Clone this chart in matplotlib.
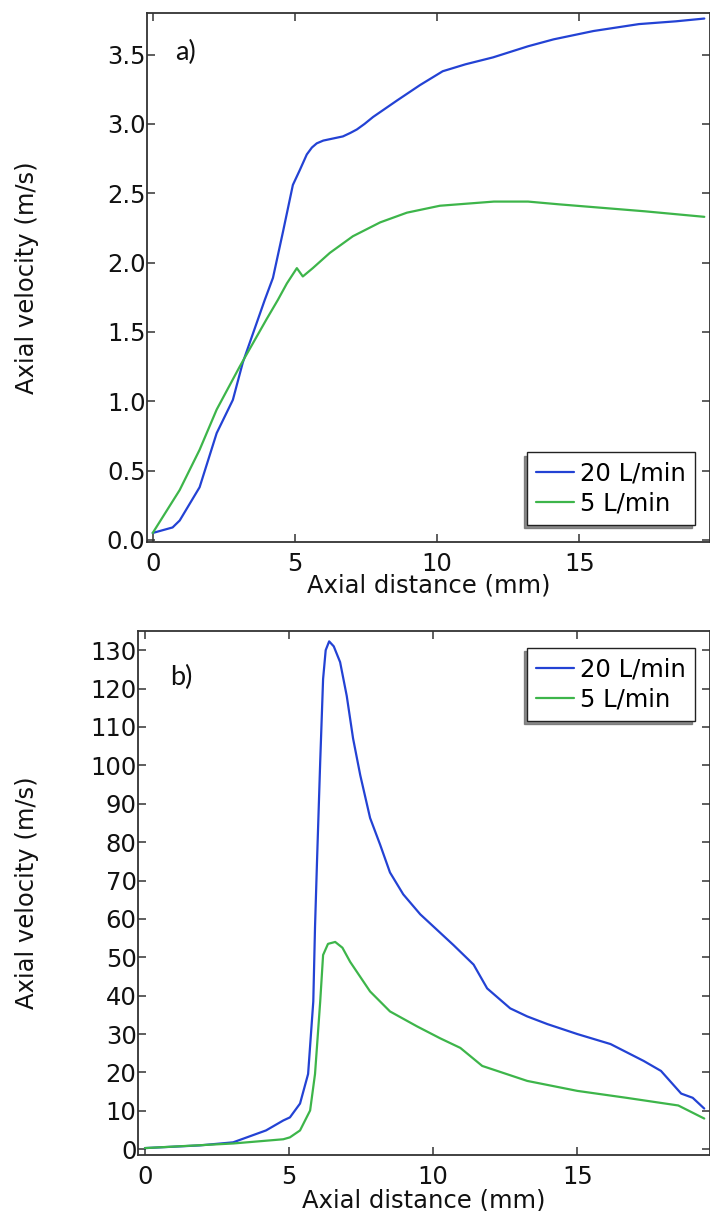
import matplotlib
matplotlib.use("Agg")
import matplotlib.pyplot as plt

# ---- Panel a) data ----
xa_20 = [0.0, 0.7, 0.95, 1.65, 2.25, 2.82, 3.17, 3.94, 4.23, 4.58, 4.93, 5.18, 5.42, 5.6, 5.77, 6.0, 6.23,
         6.69, 6.95, 7.18, 7.45, 7.75, 8.6, 9.4, 10.2, 11.0, 11.97, 13.2, 14.1, 15.5, 17.1, 18.4, 19.4]
va_20 = [0.05, 0.09, 0.14, 0.38, 0.77, 1.01, 1.28, 1.73, 1.89, 2.22, 2.56, 2.67, 2.78, 2.83, 2.86, 2.88, 2.89,
         2.91, 2.935, 2.96, 3.0, 3.05, 3.17, 3.28, 3.38, 3.43, 3.48, 3.56, 3.61, 3.67, 3.72, 3.74, 3.76]
xa_5 = [0.0, 0.95, 1.65, 2.25, 3.06, 4.0, 4.40, 4.72, 5.07, 5.28, 5.63, 6.23, 7.04, 8.0,
        8.94, 10.1, 12.0, 13.2, 14.3, 15.5, 17.3, 19.4]
va_5 = [0.05, 0.36, 0.65, 0.94, 1.25, 1.59, 1.73, 1.85, 1.96, 1.90, 1.96, 2.07, 2.19, 2.29,
        2.36, 2.41, 2.44, 2.44, 2.42, 2.40, 2.37, 2.33]

# ---- Panel b) data ----
xb_20 = [0.0, 1.9, 3.06, 4.2, 4.8, 5.03, 5.38, 5.66, 5.84, 5.9, 5.97, 6.08, 6.18, 6.27, 6.39,
         6.55, 6.77, 7.0, 7.22, 7.47, 7.81, 8.16, 8.5, 8.96, 9.55, 10.7, 11.4, 11.87, 12.67,
         13.26, 13.96, 15.0, 16.15, 17.3, 17.9, 18.6, 19.0, 19.4]
vb_20 = [0.3, 1.0, 1.8, 4.9, 7.5, 8.3, 11.9, 19.6, 38.5, 57.9, 75.2, 101.0, 122.5, 130.0, 132.3,
         131.0, 126.9, 118.1, 107.0, 97.4, 86.3, 79.3, 72.1, 66.4, 61.2, 53.2, 48.1, 41.9, 36.7,
         34.6, 32.6, 30.0, 27.4, 23.0, 20.4, 14.5, 13.4, 10.6]
xb_5 = [0.0, 3.06, 4.8, 5.03, 5.38, 5.73, 5.9, 6.08, 6.18, 6.35, 6.6, 6.85, 7.12, 7.81, 8.5,
        9.44, 10.24, 10.94, 11.7, 13.26, 15.0, 16.7, 18.5, 19.4]
vb_5 = [0.3, 1.5, 2.6, 3.1, 4.9, 10.1, 19.6, 38.5, 50.6, 53.5, 54.0, 52.5, 48.8, 41.1, 35.9,
        32.0, 28.9, 26.4, 21.7, 17.8, 15.2, 13.4, 11.4, 8.0]

series_labels = ["20 L/min", "5 L/min"]
xticks = [0, 5, 10, 15]
yticks_a = [0.0, 0.5, 1.0, 1.5, 2.0, 2.5, 3.0, 3.5]
yticks_b = list(range(0, 131, 10))

BLUE = "#2342d4"
GREEN = "#3db54a"
SPINE = "#333333"
FS = 17.5

plt.rcParams['font.family'] = ['DejaVu Sans']

W, H = 710, 1211
fig = plt.figure(figsize=(W / 100, H / 100), dpi=100)

def px_axes(left, top, right, bottom):
    return fig.add_axes([left / W, 1 - bottom / H, (right - left) / W, (bottom - top) / H])

ax1 = px_axes(147, 13, 710, 542)
ax2 = px_axes(138, 631, 710, 1155)

def style(ax):
    for s in ax.spines.values():
        s.set_color(SPINE)
        s.set_linewidth(1.3)
    ax.tick_params(direction='in', length=6, width=1.1, color=SPINE,
                   top=True, right=True, labelsize=FS, labelcolor='#111111')
    ax.tick_params(axis='x', pad=7)
    ax.tick_params(axis='y', pad=1)

line_kw = dict(lw=1.6, solid_joinstyle='round', solid_capstyle='round')
ax1.plot(xa_20, va_20, color=BLUE, label=series_labels[0], **line_kw)
ax1.plot(xa_5, va_5, color=GREEN, label=series_labels[1], **line_kw)
ax1.set_xlim(-0.2, 19.6)
ax1.set_ylim(-0.015, 3.80)
ax1.set_xticks(xticks)
ax1.set_yticks(yticks_a)
ax1.set_yticklabels([f"{v:.1f}" for v in yticks_a])
style(ax1)

ax2.plot(xb_20, vb_20, color=BLUE, label=series_labels[0], **line_kw)
ax2.plot(xb_5, vb_5, color=GREEN, label=series_labels[1], **line_kw)
ax2.set_xlim(-0.24, 19.6)
ax2.set_ylim(-1.5, 135)
ax2.set_xticks(xticks)
ax2.set_yticks(yticks_b)
style(ax2)

for ax, ylx, xly in ((ax1, -0.192, -0.060), (ax2, -0.173, -0.063)):
    ax.set_xlabel("Axial distance (mm)", fontsize=FS, color='#111111')
    ax.set_ylabel("Axial velocity (m/s)", fontsize=FS, color='#111111')
    ax.yaxis.set_label_coords(ylx, 0.5)
    ax.xaxis.set_label_coords(0.5, xly)

leg_kw = dict(fontsize=FS, fancybox=False, frameon=True, edgecolor='#222222',
              handlelength=1.56, handletextpad=0.25, borderpad=0.38, labelspacing=0.25,
              borderaxespad=0.0, shadow={'ox': -2.2, 'oy': -2.2, 'color': '#666666', 'alpha': 0.75})
l1 = ax1.legend(loc='lower right', bbox_to_anchor=(695 / W, 1 - 525 / H),
                bbox_transform=fig.transFigure, **leg_kw)
l2 = ax2.legend(loc='upper right', bbox_to_anchor=(695 / W, 1 - 648 / H),
                bbox_transform=fig.transFigure, **leg_kw)
for l in (l1, l2):
    l.get_frame().set_linewidth(1.0)
    for ln in l.get_lines():
        ln.set_linewidth(1.6)

fig.text(175 / W, 1 - 52 / H, "a)", fontsize=19.5, family=['Lato', 'DejaVu Sans'],
         ha='left', va='center', color='#111111')
fig.text(170 / W, 1 - 677 / H, "b)", fontsize=19.5, family=['Lato', 'DejaVu Sans'],
         ha='left', va='center', color='#111111')

fig.savefig("out.png", dpi=100)
